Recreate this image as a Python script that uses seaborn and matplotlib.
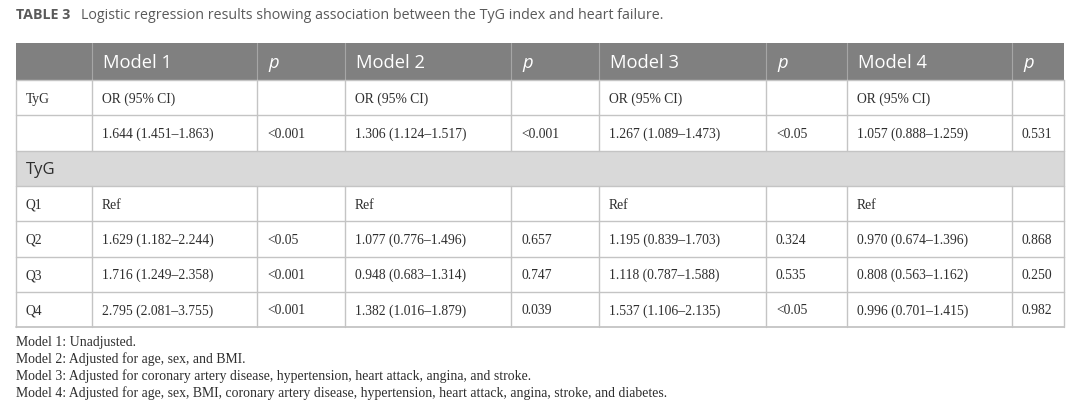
import matplotlib
matplotlib.use('Agg')
import matplotlib.pyplot as plt
from matplotlib.patches import Rectangle
import seaborn as sns

# Table content
title_bold = "TABLE 3"
title_text = "Logistic regression results showing association between the TyG index and heart failure."
header = ["", "Model 1", "p", "Model 2", "p", "Model 3", "p", "Model 4", "p"]
row_labels = ["TyG", "", "Q1", "Q2", "Q3", "Q4"]
section_label = "TyG"
section_after = 2  # section row sits after the first two rows

model1_or = ["OR (95% CI)", "1.644 (1.451–1.863)", "Ref", "1.629 (1.182–2.244)", "1.716 (1.249–2.358)", "2.795 (2.081–3.755)"]
model1_p = ["", "<0.001", "", "<0.05", "<0.001", "<0.001"]
model2_or = ["OR (95% CI)", "1.306 (1.124–1.517)", "Ref", "1.077 (0.776–1.496)", "0.948 (0.683–1.314)", "1.382 (1.016–1.879)"]
model2_p = ["", "<0.001", "", "0.657", "0.747", "0.039"]
model3_or = ["OR (95% CI)", "1.267 (1.089–1.473)", "Ref", "1.195 (0.839–1.703)", "1.118 (0.787–1.588)", "1.537 (1.106–2.135)"]
model3_p = ["", "<0.05", "", "0.324", "0.535", "<0.05"]
model4_or = ["OR (95% CI)", "1.057 (0.888–1.259)", "Ref", "0.970 (0.674–1.396)", "0.808 (0.563–1.162)", "0.996 (0.701–1.415)"]
model4_p = ["", "0.531", "", "0.868", "0.250", "0.982"]

footnotes = [
    "Model 1: Unadjusted.",
    "Model 2: Adjusted for age, sex, and BMI.",
    "Model 3: Adjusted for coronary artery disease, hypertension, heart attack, angina, and stroke.",
    "Model 4: Adjusted for age, sex, BMI, coronary artery disease, hypertension, heart attack, angina, stroke, and diabetes.",
]

# Layout (pixels)
col_edges = [16, 92, 257, 345, 511, 599, 766, 847, 1012, 1064]
header_top, header_bot = 43, 80
row_h = 35.3
pad = 10

header_bg = '#808080'
section_bg = '#d9d9d9'
line_col = '#c4c4c4'
text_col = '#2e2e2e'

sns.set_theme(style='white')
plt.rcParams['font.family'] = ['Liberation Serif', 'DejaVu Serif']

fig = plt.figure(figsize=(10.8, 4.16), dpi=100)
ax = fig.add_axes([0, 0, 1, 1])
ax.set_xlim(0, 1080)
ax.set_ylim(416, 0)
ax.axis('off')

left, right = col_edges[0], col_edges[-1]

# title
t = ax.text(left, 19, title_bold, fontsize=10.3, fontweight='bold', color='#5a5a5a',
            family='Open Sans', va='baseline', ha='left')
fig.canvas.draw()
bb = t.get_window_extent(fig.canvas.get_renderer())
ax.text(bb.x1 + 11, 19, title_text, fontsize=10.3, color='#5a5a5a',
        family='Open Sans', va='baseline', ha='left')

# header
ax.add_patch(Rectangle((left, header_top), right - left, header_bot - header_top,
                       facecolor=header_bg, edgecolor='none'))
for i, h in enumerate(header):
    if not h:
        continue
    ax.text(col_edges[i] + pad + 1, (header_top + header_bot) / 2 + 7, h, color='white',
            fontsize=13.2, family='Open Sans', style='italic' if h == 'p' else 'normal',
            va='baseline', ha='left')
for x in col_edges[1:-1]:
    ax.plot([x, x], [header_top, header_bot], color='#a6a6a6', lw=0.8)

columns = [row_labels, model1_or, model1_p, model2_or, model2_p,
           model3_or, model3_p, model4_or, model4_p]

y = header_bot
for r in range(len(row_labels)):
    if r == section_after:
        ax.add_patch(Rectangle((left, y), right - left, row_h,
                               facecolor=section_bg, edgecolor='none'))
        ax.text(left + pad, y + row_h / 2 + 6, section_label, fontsize=12,
                family='Open Sans', color=text_col, va='baseline', ha='left')
        ax.plot([left, right], [y, y], color=line_col, lw=1)
        ax.plot([left, left], [y, y + row_h], color=line_col, lw=1)
        ax.plot([right, right], [y, y + row_h], color=line_col, lw=1)
        y += row_h
    for c, col in enumerate(columns):
        if col[r]:
            ax.text(col_edges[c] + pad, y + row_h / 2 + 5, col[r], fontsize=9.8,
                    color=text_col, va='baseline', ha='left')
    for x in col_edges:
        ax.plot([x, x], [y, y + row_h], color=line_col, lw=1)
    ax.plot([left, right], [y, y], color=line_col, lw=1)
    y += row_h
ax.plot([left, right], [y, y], color=line_col, lw=1.3)

# footnotes
fy = y + 18.5
for note in footnotes:
    ax.text(left, fy, note, fontsize=9.9, color=text_col, va='baseline', ha='left')
    fy += 17

fig.savefig('out.png', dpi=100)
